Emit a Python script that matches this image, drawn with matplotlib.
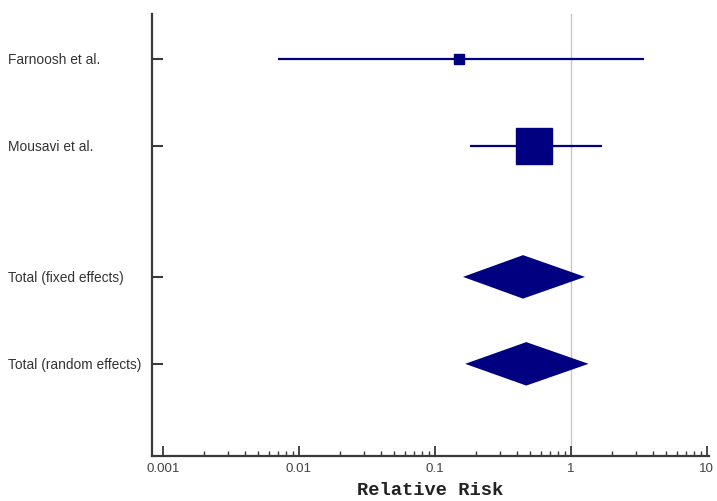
import matplotlib
matplotlib.use("Agg")
import matplotlib.pyplot as plt
import matplotlib.transforms as mtransforms
from matplotlib.ticker import NullFormatter, FixedLocator, FixedFormatter

studies = ["Farnoosh et al.", "Mousavi et al."]
study_rr = [0.151, 0.54]
study_lo = [0.0070, 0.182]
study_hi = [3.43, 1.69]
study_weight = [6.5, 26.6]  # marker sizes reflecting weight

pooled = ["Total (fixed effects)", "Total (random effects)"]
pooled_rr = [0.445, 0.47]
pooled_lo = [0.161, 0.167]
pooled_hi = [1.27, 1.35]

xtick_vals = [0.001, 0.01, 0.1, 1, 10]
xtick_labels = ["0.001", "0.01", "0.1", "1", "10"]

study_y = [1, 2]
pooled_y = [3.5, 4.5]

navy = "#000080"
plt.rcParams['font.family'] = ['Liberation Sans', 'DejaVu Sans']

fig = plt.figure(figsize=(7.17, 5.02), dpi=100)
ax = fig.add_axes([0.212, 0.0896, 0.777, 0.880])
ax.set_xscale("log")
ax.set_xlim(0.00083, 10.4)
ax.set_ylim(5.56, 0.48)

ax.axvline(1, color="#c8c8c8", lw=1.0, zorder=0)

for y, rr, lo, hi, ms in zip(study_y, study_rr, study_lo, study_hi, study_weight):
    ax.plot([lo, hi], [y, y], color=navy, lw=1.6, solid_capstyle="butt", zorder=2)
    ax.plot([rr], [y], marker="s", ms=ms, color=navy, mec=navy, zorder=3)

h = 0.25
for y, rr, lo, hi in zip(pooled_y, pooled_rr, pooled_lo, pooled_hi):
    ax.fill([lo, rr, hi, rr], [y, y - h, y, y + h], color=navy, lw=0, zorder=3)

for s in ["top", "right"]:
    ax.spines[s].set_visible(False)
for s in ["left", "bottom"]:
    ax.spines[s].set_color("#3a3a3a")
    ax.spines[s].set_linewidth(1.6)

minor_ticks = [m * 10.0 ** e for e in range(-3, 1) for m in range(2, 10)]
ax.xaxis.set_major_locator(FixedLocator(xtick_vals))
ax.xaxis.set_major_formatter(FixedFormatter(xtick_labels))
ax.xaxis.set_minor_locator(FixedLocator(minor_ticks))
ax.xaxis.set_minor_formatter(NullFormatter())
ax.tick_params(axis="x", which="major", direction="in", length=7, width=1.3,
               color="#3a3a3a", labelsize=9.6, labelcolor="#444444", pad=4)
ax.tick_params(axis="x", which="minor", direction="in", length=3.5, width=1.0,
               color="#3a3a3a")

all_y = study_y + pooled_y
all_labels = studies + pooled
ax.set_yticks(all_y)
ax.set_yticklabels([])
ax.tick_params(axis="y", which="major", direction="in", length=8, width=1.5,
               color="#3a3a3a")
ax.yaxis.set_minor_locator(FixedLocator([]))

trans = mtransforms.blended_transform_factory(fig.transFigure, ax.transData)
for y, lab in zip(all_y, all_labels):
    fig.text(0.011, y, lab, transform=trans, ha="left", va="center",
             fontsize=9.9, color="#333333")

ax.set_xlabel("Relative Risk", fontsize=13.5, fontweight="bold",
              family="Liberation Mono", color="#222222", labelpad=5)

fig.savefig("out.png", dpi=100)
